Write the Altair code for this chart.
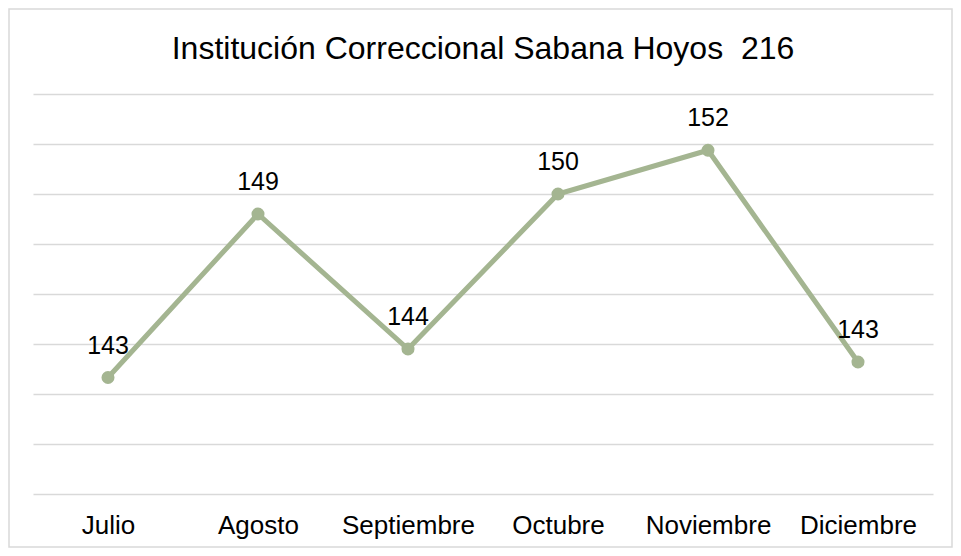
import altair as alt
import pandas as pd

months = ["Julio", "Agosto", "Septiembre", "Octubre", "Noviembre", "Diciembre"]
values = [142.66, 149.2, 143.8, 150.0, 151.75, 143.28]
title_text = ["Institución Correccional Sabana Hoyos \u00a0216"]

df = pd.DataFrame({"mes": months, "valor": values})

GREEN = "#a4b591"
FONT = "Liberation Sans"

x = alt.X("mes:N", sort=months, title=None,
          scale=alt.Scale(padding=0.5),
          axis=alt.Axis(labelAngle=0, labelFontSize=26, labelColor="#000000",
                        labelFont=FONT, ticks=False, domain=False,
                        labelPadding=18, grid=False))
y = alt.Y("valor:Q", title=None,
          scale=alt.Scale(domain=[138, 154], nice=False, zero=False),
          axis=alt.Axis(values=list(range(138, 155, 2)), labels=False,
                        ticks=False, domain=False, grid=True,
                        gridColor="#d9d9d9", gridWidth=1.5))

base = alt.Chart(df)

line = base.mark_line(color=GREEN, strokeWidth=5).encode(x=x, y=y)
pts = base.mark_circle(color=GREEN, size=170, opacity=1).encode(x=x, y=y)
labels = base.mark_text(fontSize=25, font=FONT, color="#000000",
                        baseline="alphabetic", dy=-24).encode(
    x=x, y=y, text=alt.Text("valor:Q", format=".0f"))

frame = alt.Chart(pd.DataFrame({"a": [0]})).mark_rect(
    fill=None, stroke="#d9d9d9", strokeWidth=1.5).encode(
    x=alt.value(-24), x2=alt.value(919), y=alt.value(-85), y2=alt.value(453))

title = alt.Chart(pd.DataFrame({"t": title_text})).mark_text(
    fontSize=32, font=FONT, color="#000000", baseline="alphabetic",
    align="center").encode(x=alt.value(450), y=alt.value(-35), text="t:N")

chart = alt.layer(frame, line, pts, labels, title).properties(
    width=900, height=400,
    autosize=alt.AutoSizeParams(type="none"),
    padding={"left": 25, "top": 86, "right": 20, "bottom": 54},
).configure_view(stroke=None)

chart.save("out.html", embed_options={"renderer": "svg", "actions": False})
